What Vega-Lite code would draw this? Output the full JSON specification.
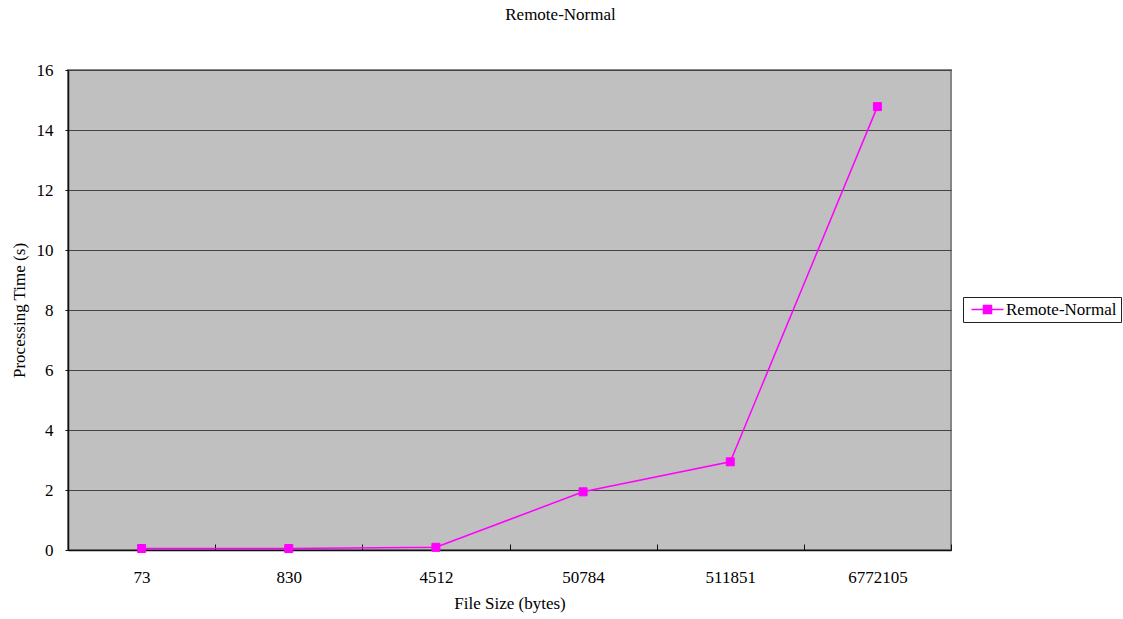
{
  "$schema": "https://vega.github.io/schema/vega-lite/v6.json",
  "width": 883,
  "height": 480,
  "autosize": {"type": "none"},
  "padding": {"left": 68, "top": 70, "right": 172, "bottom": 69},
  "background": "white",
  "title": {
    "text": "Remote-Normal",
    "font": "Liberation Serif",
    "fontSize": 17,
    "fontWeight": "normal",
    "color": "black",
    "anchor": "middle",
    "frame": "group",
    "baseline": "alphabetic",
    "offset": 24,
    "dx": 51
  },
  "config": {
    "view": {"fill": "#C0C0C0", "stroke": "#868686", "strokeWidth": 2},
    "axis": {
      "labelFont": "Liberation Serif",
      "titleFont": "Liberation Serif",
      "labelFontSize": 17,
      "titleFontSize": 17,
      "titleFontWeight": "normal",
      "labelColor": "black",
      "titleColor": "black",
      "domainColor": "#111111",
      "domainWidth": 1.5,
      "tickColor": "#111111"
    }
  },
  "data": {
    "values": [
      {"size": "73", "time": 0.05, "series": "Remote-Normal"},
      {"size": "830", "time": 0.05, "series": "Remote-Normal"},
      {"size": "4512", "time": 0.09, "series": "Remote-Normal"},
      {"size": "50784", "time": 1.94, "series": "Remote-Normal"},
      {"size": "511851", "time": 2.94, "series": "Remote-Normal"},
      {"size": "6772105", "time": 14.78, "series": "Remote-Normal"}
    ]
  },
  "encoding": {
    "x": {
      "field": "size",
      "type": "ordinal",
      "sort": null,
      "scale": {"type": "band", "paddingInner": 0, "paddingOuter": 0},
      "axis": {
        "title": "File Size (bytes)",
        "labelFont": "Liberation Serif",
        "titleFont": "Liberation Serif",
        "labelAngle": 0,
        "tickBand": "extent",
        "tickSize": -6,
        "labelPadding": 25,
        "titlePadding": 10,
        "grid": false
      }
    },
    "y": {
      "field": "time",
      "type": "quantitative",
      "scale": {"domain": [0, 16], "nice": false},
      "axis": {
        "title": "Processing Time (s)",
        "labelFont": "Liberation Serif",
        "titleFont": "Liberation Serif",
        "values": [0, 2, 4, 6, 8, 10, 12, 14, 16],
        "tickSize": 3,
        "labelPadding": 12,
        "titlePadding": 8,
        "grid": true,
        "gridColor": "#444444",
        "gridWidth": 1,
        "gridOpacity": 1
      }
    },
    "color": {
      "field": "series",
      "type": "nominal",
      "scale": {"range": ["#FF00FF"]},
      "legend": {
        "title": null,
        "orient": "none",
        "legendX": 895,
        "legendY": 227,
        "fillColor": "white",
        "strokeColor": "#222222",
        "cornerRadius": 0,
        "padding": 4,
        "labelFont": "Liberation Serif",
        "labelFontSize": 17,
        "labelColor": "black",
        "symbolType": "M-3.2,0H3.2M-0.8,-0.8H0.8V0.8H-0.8Z",
        "symbolSize": 100,
        "symbolStrokeWidth": 1.5,
        "symbolFillColor": "#FF00FF",
        "symbolStrokeColor": "#FF00FF",
        "symbolOffset": 12,
        "labelOffset": 10
      }
    }
  },
  "layer": [
    {"mark": {"type": "line", "strokeWidth": 1.5}},
    {"mark": {"type": "point", "shape": "square", "filled": true, "size": 64, "opacity": 1, "strokeWidth": 1, "stroke": "#FF00FF"}}
  ]
}
